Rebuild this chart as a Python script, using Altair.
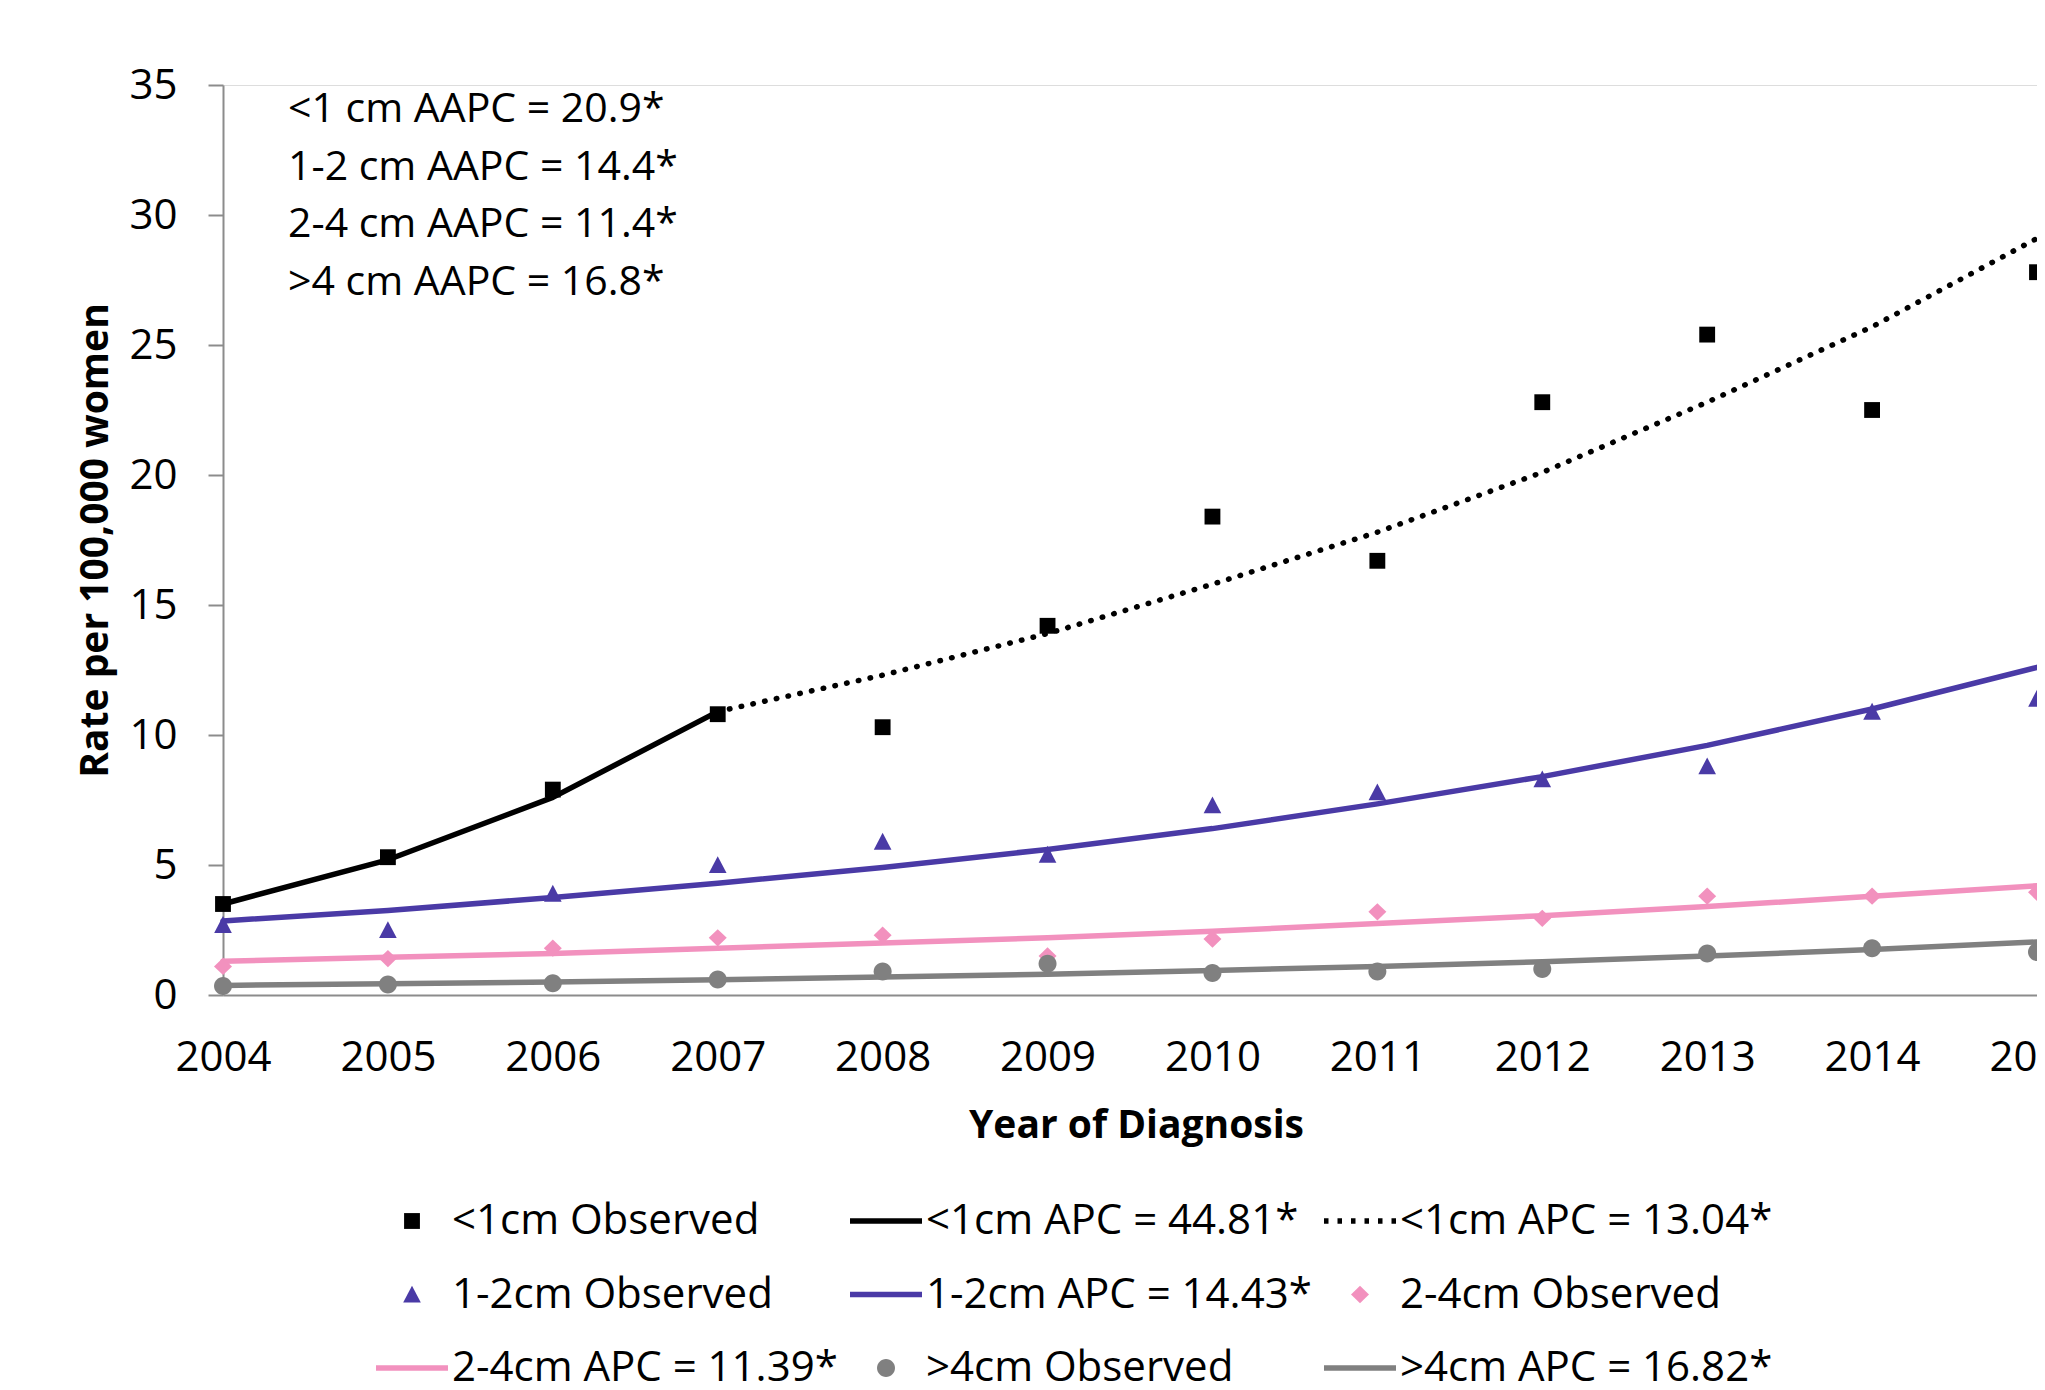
import altair as alt
import pandas as pd

# ---------------- data ----------------
years = [2004, 2005, 2006, 2007, 2008, 2009, 2010, 2011, 2012, 2013, 2014, 2015]

obs_lt1 = [3.5, 5.3, 7.9, 10.8, 10.3, 14.2, 18.4, 16.7, 22.8, 25.4, 22.5, 27.8]
obs_1_2 = [2.7, 2.5, 3.9, 5.0, 5.9, 5.4, 7.3, 7.8, 8.3, 8.8, 10.9, 11.4]
obs_2_4 = [1.1, 1.4, 1.8, 2.2, 2.3, 1.5, 2.15, 3.2, 2.95, 3.8, 3.8, 3.95]
obs_gt4 = [0.35, 0.4, 0.45, 0.6, 0.9, 1.2, 0.85, 0.9, 1.0, 1.6, 1.8, 1.65]

fit_lt1_a_years = [2004, 2005, 2006, 2007]
fit_lt1_a = [3.5, 5.2, 7.6, 10.9]
fit_lt1_b_years = [2007, 2008, 2009, 2010, 2011, 2012, 2013, 2014, 2015]
fit_lt1_b = [10.9, 12.3, 13.9, 15.8, 17.8, 20.1, 22.8, 25.7, 29.1]
fit_1_2 = [2.85, 3.25, 3.75, 4.3, 4.9, 5.6, 6.4, 7.35, 8.4, 9.6, 11.0, 12.6]
fit_2_4 = [1.3, 1.45, 1.6, 1.8, 2.0, 2.2, 2.45, 2.75, 3.05, 3.4, 3.8, 4.2]
fit_gt4 = [0.37, 0.43, 0.5, 0.59, 0.69, 0.8, 0.94, 1.1, 1.28, 1.5, 1.75, 2.04]

legend_labels = [
    "<1cm Observed", "<1cm APC = 44.81*", "<1cm APC = 13.04*",
    "1-2cm Observed", "1-2cm APC = 14.43*", "2-4cm Observed",
    "2-4cm APC = 11.39*", ">4cm Observed", ">4cm APC = 16.82*",
]
legend_colors = ["#000000", "#000000", "#000000",
                 "#4A3AA6", "#4A3AA6", "#F291BE",
                 "#F291BE", "#808080", "#808080"]

annotation_lines = [
    "<1 cm AAPC = 20.9*",
    "1-2 cm AAPC = 14.4*",
    "2-4 cm AAPC = 11.4*",
    ">4 cm AAPC = 16.8*",
]
y_ticks = [0, 5, 10, 15, 20, 25, 30, 35]

x_title = "Year of Diagnosis"
y_title = "Rate per 100,000 women"

# ---------------- tables ----------------
obs_series = ["<1cm Observed", "1-2cm Observed", "2-4cm Observed", ">4cm Observed"]
obs_values = [obs_lt1, obs_1_2, obs_2_4, obs_gt4]
obs_rows = []
for s, vals in zip(obs_series, obs_values):
    for y, v in zip(years, vals):
        obs_rows.append({"year": y, "rate": v, "series": s})
obs_df = pd.DataFrame(obs_rows)

solid_series = ["<1cm APC = 44.81*", "1-2cm APC = 14.43*",
                "2-4cm APC = 11.39*", ">4cm APC = 16.82*"]
solid_years = [fit_lt1_a_years, years, years, years]
solid_values = [fit_lt1_a, fit_1_2, fit_2_4, fit_gt4]
solid_rows = []
for s, ys, vals in zip(solid_series, solid_years, solid_values):
    for y, v in zip(ys, vals):
        solid_rows.append({"year": y, "rate": v, "series": s})
solid_df = pd.DataFrame(solid_rows)

dotted_df = pd.DataFrame({"year": fit_lt1_b_years, "rate": fit_lt1_b,
                          "series": ["<1cm APC = 13.04*"] * len(fit_lt1_b)})

ann_df = pd.DataFrame({"txt": ["\n".join(annotation_lines)]})

# ---------------- styling ----------------
FONT = "Open Sans"
AXIS_GRAY = "#8C8C8C"
LINE_PATH = "M-1,0H1"
marker_paths = {
    "<1cm Observed": "M-0.22,-0.22H0.22V0.22H-0.22Z",
    "1-2cm Observed": "M0,-0.245L0.245,0.225H-0.245Z",
    "2-4cm Observed": "M0,-0.24L0.25,0L0,0.24L-0.25,0Z",
    ">4cm Observed": "M-0.25,0A0.25,0.25 0 1,0 0.25,0A0.25,0.25 0 1,0 -0.25,0Z",
}
line_set = set(solid_series) | {"<1cm APC = 13.04*"}

shape_range = [marker_paths.get(lab, LINE_PATH) for lab in legend_labels]
fill_range = [c if lab in marker_paths else "transparent"
              for lab, c in zip(legend_labels, legend_colors)]
stroke_range = [c if lab in line_set else "transparent"
                for lab, c in zip(legend_labels, legend_colors)]
dash_range = [[4.5, 9] if lab == "<1cm APC = 13.04*" else [1, 0] for lab in legend_labels]

legend = alt.Legend(
    orient="none", legendX=150, legendY=1097, columns=3, direction="horizontal",
    title=None, labelFont=FONT, labelFontSize=42, labelColor="black", labelLimit=2000,
    labelOffset=1, symbolSize=5184, symbolStrokeWidth=5.5, symbolOpacity=1,
    columnPadding=1, rowPadding=13.5, padding=0,
)

PLOT_W = 1814
x_enc = alt.X(
    "year:Q",
    scale=alt.Scale(domain=[2004, 2015], range=[0, PLOT_W], nice=False, zero=False),
    axis=alt.Axis(
        values=years, format="d", labelFont=FONT, labelFontSize=42, labelColor="black",
        labelPadding=75, labelBaseline="alphabetic", labelFlush=False, labelOverlap=False,
        ticks=False, tickSize=0, grid=False, domainColor=AXIS_GRAY, domainWidth=2,
        title=x_title, titleFont=FONT, titleFontSize=39, titleFontWeight="bold",
        titleColor="black", titleBaseline="alphabetic", titleY=142, titleX=913,
    ),
)
y_enc = alt.Y(
    "rate:Q",
    scale=alt.Scale(domain=[0, 35], nice=False),
    axis=alt.Axis(
        values=y_ticks, labelFont=FONT, labelFontSize=42, labelColor="black",
        labelPadding=31, tickSize=15, tickColor=AXIS_GRAY, tickWidth=2,
        domainColor=AXIS_GRAY, domainWidth=2, grid=False,
        title=y_title, titleFont=FONT, titleFontSize=39, titleFontWeight="bold",
        titleColor="black", titleAngle=270, titleBaseline="alphabetic",
        titleX=-116, titleY=455,
    ),
)

stroke_enc = alt.Stroke("series:N", scale=alt.Scale(domain=legend_labels, range=stroke_range),
                        legend=legend)

solid_lines = alt.Chart(solid_df).mark_line(strokeWidth=5.5, strokeCap="round",
                                            strokeJoin="round").encode(
    x=x_enc, y=y_enc, stroke=stroke_enc, detail="series:N",
)

dotted_line = alt.Chart(dotted_df).mark_line(strokeWidth=5.5, strokeCap="round",
                                             strokeDash=[0.5, 11.5]).encode(
    x=x_enc, y=y_enc, stroke=stroke_enc,
)

points = alt.Chart(obs_df).mark_point(filled=True, opacity=1, size=5184, strokeWidth=0).encode(
    x=x_enc,
    y=y_enc,
    fill=alt.Fill("series:N", scale=alt.Scale(domain=legend_labels, range=fill_range),
                  legend=legend),
    shape=alt.Shape("series:N", scale=alt.Scale(domain=legend_labels, range=shape_range),
                    legend=legend),
    strokeDash=alt.StrokeDash("series:N",
                              scale=alt.Scale(domain=legend_labels, range=dash_range),
                              legend=legend),
)

annot = alt.Chart(ann_df).mark_text(
    align="left", baseline="alphabetic", font=FONT, fontSize=41,
    lineBreak="\n", lineHeight=57.5, color="black",
).encode(
    x=alt.value(65), y=alt.value(37), text="txt:N",
)

chart = alt.layer(solid_lines, dotted_line, points, annot).properties(
    width=PLOT_W, height=910,
    autosize=alt.AutoSizeParams(type="none"),
    padding={"left": 215, "top": 77, "right": 0, "bottom": 387},
).configure_view(stroke=None).configure(background="white")

chart.save("out.html", embed_options={"renderer": "svg", "actions": False})
